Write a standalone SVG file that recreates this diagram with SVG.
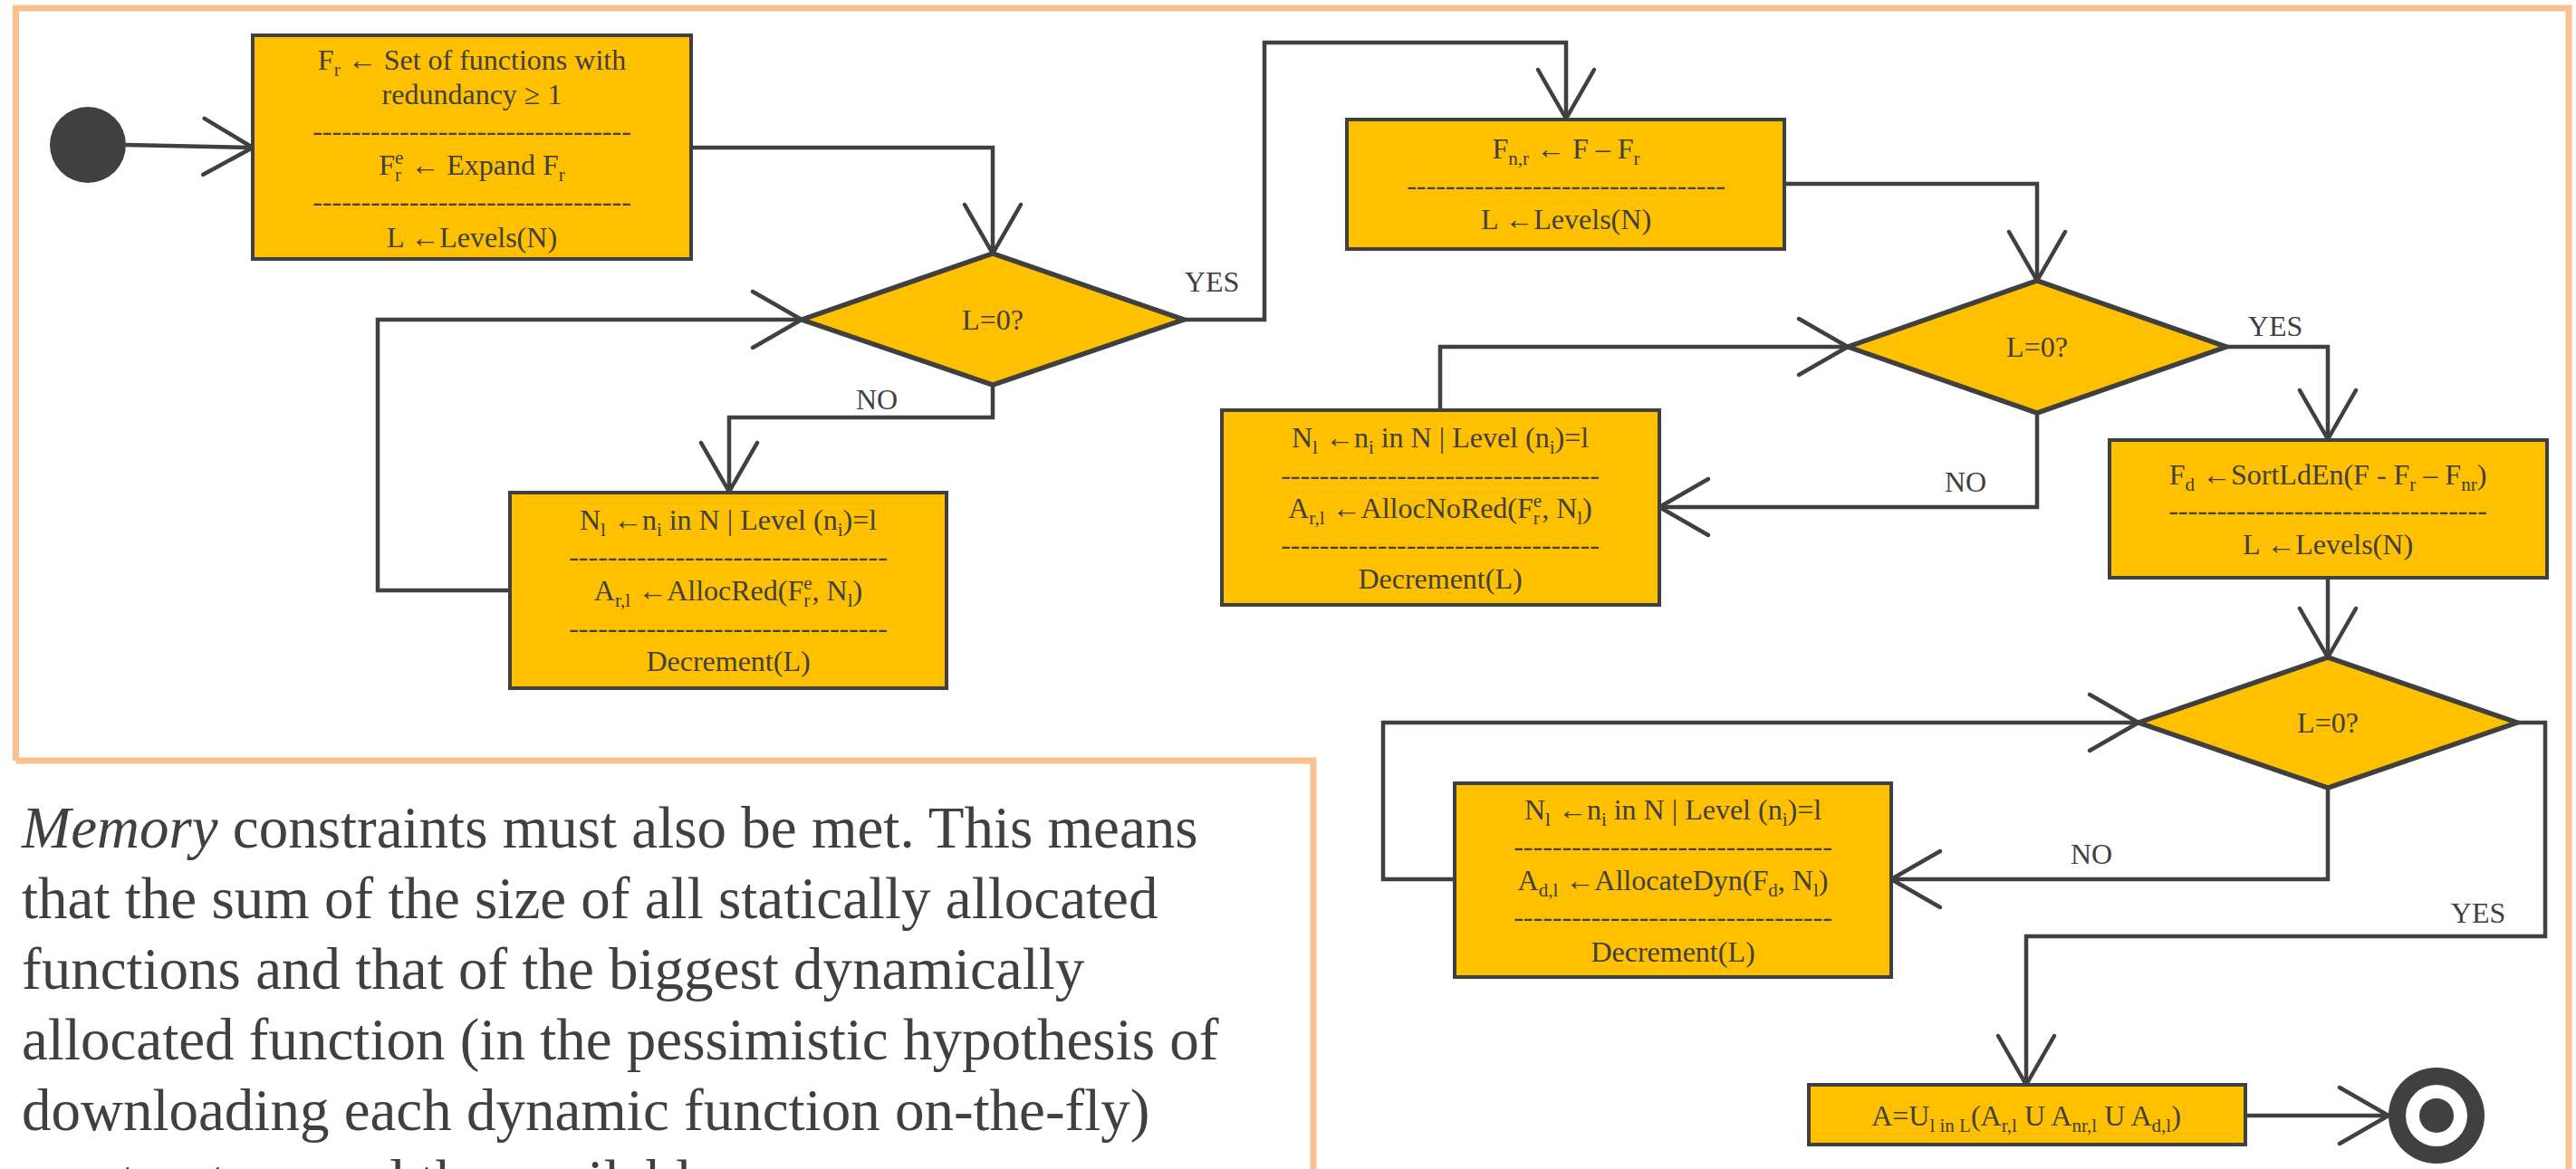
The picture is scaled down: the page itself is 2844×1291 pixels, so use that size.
<svg xmlns="http://www.w3.org/2000/svg" width="2844" height="1291" viewBox="0 0 2844 1291">
<style>
.t{font-family:"Liberation Serif","Times New Roman",serif;font-size:32px;fill:#404040;text-anchor:middle}
.s{font-size:21px}
.box{fill:#FFC000;stroke:#404040;stroke-width:4}
.dia{fill:#FFC000;stroke:#404040;stroke-width:5.5;stroke-linejoin:miter}
.con{fill:none;stroke:#404040;stroke-width:4.5;marker-end:url(#arr)}
.frame{fill:none;stroke:#FAC090;stroke-width:7}
.p{font-family:"Liberation Serif","Times New Roman",serif;font-size:65px;fill:#404040}
</style>
<defs>
<marker id="arr" markerUnits="userSpaceOnUse" markerWidth="80" markerHeight="80" viewBox="-70 -40 80 80" refX="0" refY="0" orient="auto" overflow="visible">
<path d="M-54,-31 L0,0 L-54,31" fill="none" stroke="#404040" stroke-width="4.5" stroke-linecap="round" stroke-linejoin="round"/>
</marker>
</defs>
<rect width="2844" height="1291" fill="#FFFFFF"/>
<g id="frame">
<polyline class="frame" points="17.5,840 17.5,9 2836,9 2836,1291"/>
<polyline class="frame" points="17.5,840 1450,840 1450,1291"/>
</g>
<g id="connectors">
<path class="con" d="M139,160 L279,163"/>
<path class="con" d="M763,163 H1096 V280"/>
<path class="con" d="M1096,425 V461 H805 V543"/>
<path class="con" d="M563,652 H417 V353 H885"/>
<path class="con" d="M1307,353 H1396 V47 H1729 V131"/>
<path class="con" d="M1970,203 H2249 V310"/>
<path class="con" d="M2249,456 V560 H1832"/>
<path class="con" d="M1590,453 V383 H2040"/>
<path class="con" d="M2458,383 H2570 V485"/>
<path class="con" d="M2570,638 V726"/>
<path class="con" d="M2570,870 V971 H2088"/>
<path class="con" d="M1606,971 H1527 V798 H2361"/>
<path class="con" d="M2779,798 H2810 V1034 H2237 V1198"/>
<path class="con" d="M2479,1232 H2637"/>
<text class="t" x="968" y="452">NO</text>
<text class="t" x="1338" y="322">YES</text>
<text class="t" x="2170" y="543">NO</text>
<text class="t" x="2512" y="371">YES</text>
<text class="t" x="2309" y="954">NO</text>
<text class="t" x="2736" y="1019">YES</text>
</g>
<g id="start">
<circle cx="97" cy="160" r="42" fill="#404040"/>
</g>
<g id="box1">
<rect class="box" x="279" y="39" width="484" height="247"/>
<text class="t" x="521" y="77">F<tspan class="s" dy="7">r</tspan><tspan dy="-7"> ← Set of functions with</tspan></text>
<text class="t" x="521" y="115">redundancy ≥ 1</text>
<text class="t" x="521" y="155">---------------------------------</text>
<text class="t" x="521" y="193">F<tspan class="s" dy="7">r</tspan><tspan class="s" dx="-7" dy="-19">e</tspan><tspan dy="12"> ← Expand F</tspan><tspan class="s" dy="7">r</tspan></text>
<text class="t" x="521" y="233">---------------------------------</text>
<text class="t" x="521" y="273">L ←Levels(N)</text>
</g>
<g id="dec1">
<polygon class="dia" points="885,353 1096,280 1307,353 1096,425"/>
<text class="t" x="1096" y="364">L=0?</text>
</g>
<g id="box2">
<rect class="box" x="563" y="544" width="482" height="216"/>
<text class="t" x="804" y="585">N<tspan class="s" dy="7">l</tspan><tspan dy="-7"> ←n</tspan><tspan class="s" dy="7">i</tspan><tspan dy="-7"> in N | Level (n</tspan><tspan class="s" dy="7">i</tspan><tspan dy="-7">)=l</tspan></text>
<text class="t" x="804" y="625">---------------------------------</text>
<text class="t" x="804" y="663">A<tspan class="s" dy="7">r,l</tspan><tspan dy="-7"> ←AllocRed(F</tspan><tspan class="s" dy="7">r</tspan><tspan class="s" dx="-7" dy="-19">e</tspan><tspan dy="12">, N</tspan><tspan class="s" dy="7">l</tspan><tspan dy="-7">)</tspan></text>
<text class="t" x="804" y="704">---------------------------------</text>
<text class="t" x="804" y="741">Decrement(L)</text>
</g>
<g id="box3">
<rect class="box" x="1487" y="132" width="483" height="143"/>
<text class="t" x="1729" y="175">F<tspan class="s" dy="7">n,r</tspan><tspan dy="-7"> ← F – F</tspan><tspan class="s" dy="7">r</tspan></text>
<text class="t" x="1729" y="215">---------------------------------</text>
<text class="t" x="1729" y="253">L ←Levels(N)</text>
</g>
<g id="dec2">
<polygon class="dia" points="2040,383 2249,310 2458,383 2249,456"/>
<text class="t" x="2249" y="394">L=0?</text>
</g>
<g id="box4">
<rect class="box" x="1349" y="453" width="483" height="215"/>
<text class="t" x="1590" y="494">N<tspan class="s" dy="7">l</tspan><tspan dy="-7"> ←n</tspan><tspan class="s" dy="7">i</tspan><tspan dy="-7"> in N | Level (n</tspan><tspan class="s" dy="7">i</tspan><tspan dy="-7">)=l</tspan></text>
<text class="t" x="1590" y="535">---------------------------------</text>
<text class="t" x="1590" y="572">A<tspan class="s" dy="7">r,l</tspan><tspan dy="-7"> ←AllocNoRed(F</tspan><tspan class="s" dy="7">r</tspan><tspan class="s" dx="-7" dy="-19">e</tspan><tspan dy="12">, N</tspan><tspan class="s" dy="7">l</tspan><tspan dy="-7">)</tspan></text>
<text class="t" x="1590" y="612">---------------------------------</text>
<text class="t" x="1590" y="650">Decrement(L)</text>
</g>
<g id="box5">
<rect class="box" x="2329" y="486" width="483" height="152"/>
<text class="t" x="2570" y="535">F<tspan class="s" dy="7">d</tspan><tspan dy="-7"> ←SortLdEn(F - F</tspan><tspan class="s" dy="7">r</tspan><tspan dy="-7"> – F</tspan><tspan class="s" dy="7">nr</tspan><tspan dy="-7">)</tspan></text>
<text class="t" x="2570" y="574">---------------------------------</text>
<text class="t" x="2570" y="612">L ←Levels(N)</text>
</g>
<g id="dec3">
<polygon class="dia" points="2361,798 2570,726 2779,798 2570,870"/>
<text class="t" x="2570" y="809">L=0?</text>
</g>
<g id="box6">
<rect class="box" x="1606" y="865" width="482" height="214"/>
<text class="t" x="1847" y="905">N<tspan class="s" dy="7">l</tspan><tspan dy="-7"> ←n</tspan><tspan class="s" dy="7">i</tspan><tspan dy="-7"> in N | Level (n</tspan><tspan class="s" dy="7">i</tspan><tspan dy="-7">)=l</tspan></text>
<text class="t" x="1847" y="945">---------------------------------</text>
<text class="t" x="1847" y="983">A<tspan class="s" dy="7">d,l</tspan><tspan dy="-7"> ←AllocateDyn(F</tspan><tspan class="s" dy="7">d</tspan><tspan dy="-7">, N</tspan><tspan class="s" dy="7">l</tspan><tspan dy="-7">)</tspan></text>
<text class="t" x="1847" y="1023">---------------------------------</text>
<text class="t" x="1847" y="1062">Decrement(L)</text>
</g>
<g id="box7">
<rect class="box" x="1997" y="1198" width="482" height="66"/>
<text class="t" x="2237" y="1243">A=U<tspan class="s" dy="7">l in L</tspan><tspan dy="-7">(A</tspan><tspan class="s" dy="7">r,l</tspan><tspan dy="-7"> U A</tspan><tspan class="s" dy="7">nr,l</tspan><tspan dy="-7"> U A</tspan><tspan class="s" dy="7">d,l</tspan><tspan dy="-7">)</tspan></text>
</g>
<g id="end">
<circle cx="2690" cy="1232" r="53" fill="#404040"/>
<circle cx="2690" cy="1232" r="34" fill="#FFFFFF"/>
<circle cx="2690" cy="1232" r="19" fill="#404040"/>
</g>
<g id="paragraph">
<text class="p" x="24" y="936"><tspan font-style="italic">Memory</tspan> constraints must also be met. This means</text>
<text class="p" x="24" y="1014">that the sum of the size of all statically allocated</text>
<text class="p" x="24" y="1092">functions and that of the biggest dynamically</text>
<text class="p" x="24" y="1170">allocated function (in the pessimistic hypothesis of</text>
<text class="p" x="24" y="1248">downloading each dynamic function on-the-fly)</text>
<text class="p" x="24" y="1326">must not exceed the available</text>
</g>
</svg>
